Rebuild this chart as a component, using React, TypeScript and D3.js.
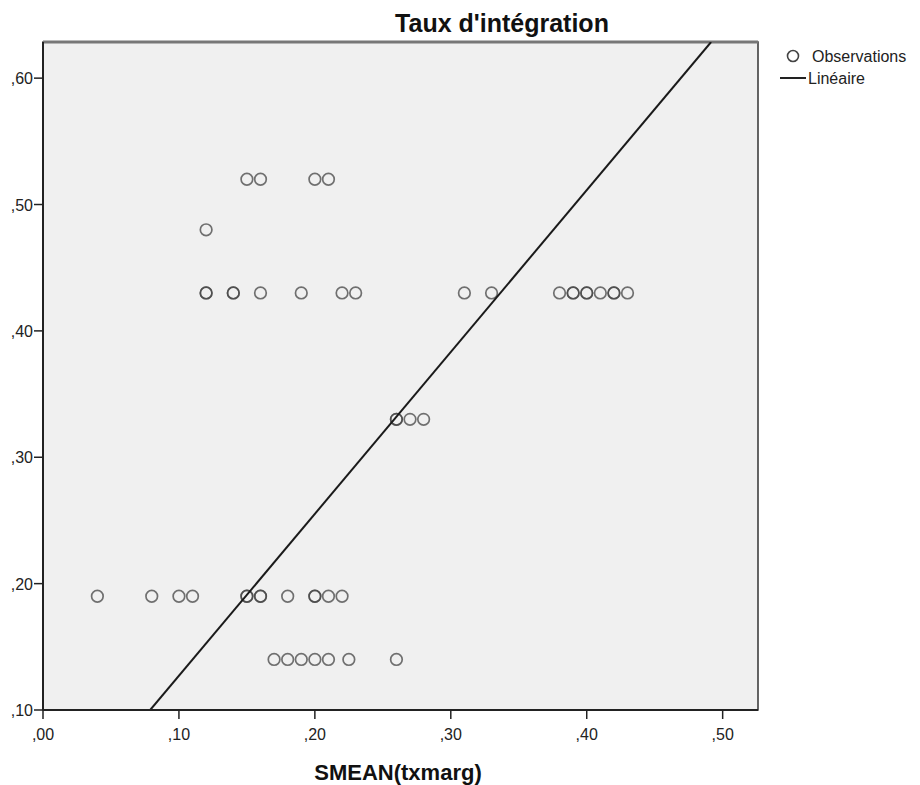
import React from 'react';
import * as d3 from 'd3';

// observations: [txmarg, taux d'intégration] (duplicates kept, they draw darker)
const obsX: number[] = [
  0.15, 0.16, 0.20, 0.21,
  0.12,
  0.12, 0.12, 0.14, 0.14, 0.16, 0.19, 0.22, 0.23, 0.31, 0.33, 0.38, 0.39, 0.39, 0.40, 0.40, 0.41, 0.42, 0.42, 0.43,
  0.26, 0.26, 0.27, 0.28,
  0.04, 0.08, 0.10, 0.11, 0.15, 0.15, 0.16, 0.16, 0.18, 0.20, 0.20, 0.21, 0.22,
  0.17, 0.18, 0.19, 0.20, 0.21, 0.225, 0.26,
];
const obsY: number[] = [
  0.52, 0.52, 0.52, 0.52,
  0.48,
  0.43, 0.43, 0.43, 0.43, 0.43, 0.43, 0.43, 0.43, 0.43, 0.43, 0.43, 0.43, 0.43, 0.43, 0.43, 0.43, 0.43, 0.43, 0.43,
  0.33, 0.33, 0.33, 0.33,
  0.19, 0.19, 0.19, 0.19, 0.19, 0.19, 0.19, 0.19, 0.19, 0.19, 0.19, 0.19, 0.19,
  0.14, 0.14, 0.14, 0.14, 0.14, 0.14, 0.14,
];

// fitted linear line
const fitIntercept = -0.001;
const fitSlope = 1.281;

const xTicks = [0, 0.1, 0.2, 0.3, 0.4, 0.5];
const yTicks = [0.1, 0.2, 0.3, 0.4, 0.5, 0.6];
const xDomain: [number, number] = [0, 0.526];
const yDomain: [number, number] = [0.1, 0.6286];

const fmt = (v: number) => ',' + d3.format('.2f')(v).split('.')[1];

export default function App() {
  const width = 920;
  const height = 785;
  const left = 43, right = 758, top = 42, bottom = 710;

  const x = d3.scaleLinear().domain(xDomain).range([left, right]);
  const y = d3.scaleLinear().domain(yDomain).range([bottom, top]);

  const line = d3.line<number>()
    .x(d => x(d))
    .y(d => y(fitIntercept + fitSlope * d));
  const lineXs = [(yDomain[0] - fitIntercept) / fitSlope, (yDomain[1] - fitIntercept) / fitSlope];

  const font = '"Liberation Sans", Arial, sans-serif';

  return (
    <svg width={width} height={height} style={{ position: 'absolute', left: 0, top: 0, background: '#fff' }} fontFamily={font}>
      <text x={502} y={32} textAnchor="middle" fontSize={25} fontWeight="bold" fill="#111">Taux d'intégration</text>

      <rect x={left} y={top} width={right - left} height={bottom - top} fill="#f0f0f0" stroke="#333" strokeWidth={1.5} />
      <line x1={left} x2={right} y1={top} y2={top} stroke="#777" strokeWidth={3} />

      <defs>
        <clipPath id="plotClip">
          <rect x={left} y={top} width={right - left} height={bottom - top} />
        </clipPath>
      </defs>

      {obsX.map((v, i) => (
        <circle key={i} cx={x(v)} cy={y(obsY[i])} r={5.8} fill="none" stroke="#444" strokeOpacity={0.75} strokeWidth={1.7} />
      ))}

      <path d={line(lineXs) || ''} fill="none" stroke="#1a1a1a" strokeWidth={2} clipPath="url(#plotClip)" />

      {/* x axis */}
      <line x1={left} x2={right} y1={bottom} y2={bottom} stroke="#222" strokeWidth={2} />
      {xTicks.map(t => (
        <g key={t}>
          <line x1={x(t)} x2={x(t)} y1={bottom} y2={bottom + 9} stroke="#222" strokeWidth={1.5} />
          <text x={x(t)} y={740} textAnchor="middle" fontSize={16} fill="#222">{fmt(t)}</text>
        </g>
      ))}
      {/* y axis */}
      <line x1={left} x2={left} y1={top} y2={bottom} stroke="#222" strokeWidth={2} />
      {yTicks.map(t => (
        <g key={t}>
          <line x1={left - 9} x2={left} y1={y(t)} y2={y(t)} stroke="#222" strokeWidth={1.5} />
          <text x={33} y={y(t) + 6} textAnchor="end" fontSize={16} fill="#222">{fmt(t)}</text>
        </g>
      ))}

      <text x={398} y={780} textAnchor="middle" fontSize={22} fontWeight="bold" fill="#111">SMEAN(txmarg)</text>

      {/* legend */}
      <circle cx={793} cy={56} r={5.5} fill="none" stroke="#444" strokeWidth={1.6} />
      <text x={812} y={62} fontSize={16} fill="#222">Observations</text>
      <line x1={780} x2={806} y1={78} y2={78} stroke="#222" strokeWidth={2} />
      <text x={808} y={84} fontSize={16} fill="#222">Linéaire</text>
    </svg>
  );
}
